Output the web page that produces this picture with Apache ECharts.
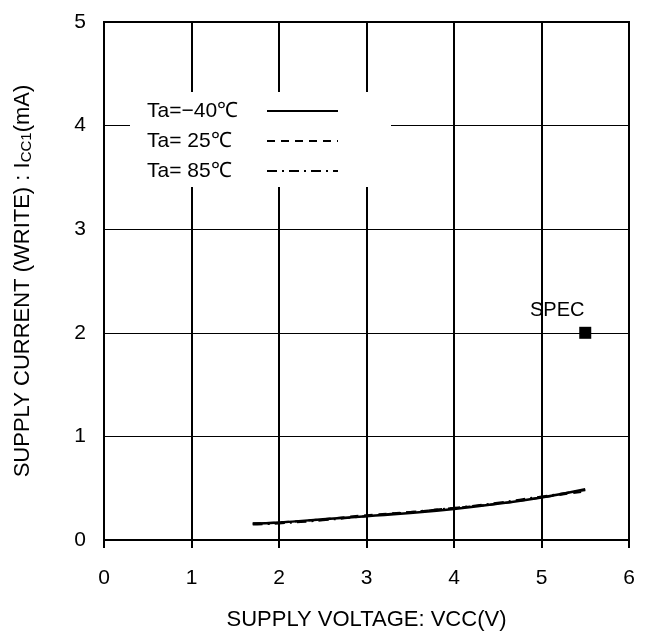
<!DOCTYPE html>
<html>
<head>
<meta charset="utf-8">
<script src="https://cdn.jsdelivr.net/npm/echarts@6/dist/echarts.min.js"></script>
<style>html,body{margin:0;padding:0;background:#fff}#c{width:650px;height:636px}</style>
</head>
<body>
<div id="c"></div>
<script>
const voltages = [1.7, 2.0, 2.5, 3.0, 3.5, 4.0, 4.5, 5.0, 5.5];
const currentM40 = [0.16, 0.17, 0.20, 0.23, 0.26, 0.30, 0.35, 0.41, 0.49];
const current25 = [0.16, 0.17, 0.20, 0.24, 0.27, 0.31, 0.35, 0.41, 0.47];
const current85 = [0.15, 0.16, 0.19, 0.23, 0.27, 0.31, 0.36, 0.42, 0.48];
const seriesNames = ['Ta=\u221240\u2103', 'Ta= 25\u2103', 'Ta= 85\u2103'];
const specPoint = [5.5, 2.0];
const xTicks = [0, 1, 2, 3, 4, 5, 6];
const yTicks = [0, 1, 2, 3, 4, 5];

const FONT = 'Liberation Sans, Arial, sans-serif';
const pair = (xs, ys) => xs.map((x, i) => [x, ys[i]]);

const chart = echarts.init(document.getElementById('c'));
chart.setOption({
  animation: false,
  backgroundColor: '#fff',
  textStyle: { fontFamily: FONT, color: '#000' },
  grid: { left: 104, right: 21, top: 22, bottom: 94, show: true, borderColor: '#000', borderWidth: 2, backgroundColor: 'transparent' },
  legend: {
    data: seriesNames,
    orient: 'vertical',
    align: 'right',
    left: 130,
    top: 92,
    padding: [7, 52, 4, 17],
    backgroundColor: '#fff',
    itemWidth: 71,
    itemHeight: 14,
    itemGap: 6,
    selectedMode: false,
    itemStyle: { opacity: 0 },
    formatter: '{t|{name}}',
    textStyle: { fontSize: 21, fontFamily: FONT, color: '#000', lineHeight: 24,
      rich: { t: { width: 115, align: 'left', fontSize: 21, fontFamily: FONT, color: '#000', lineHeight: 24 } } }
  },
  xAxis: {
    type: 'value', min: xTicks[0], max: xTicks[xTicks.length - 1], interval: 1,
    name: 'SUPPLY VOLTAGE: VCC(V)', nameLocation: 'middle', nameGap: 69,
    nameTextStyle: { fontSize: 22, fontFamily: FONT, color: '#000' },
    axisLine: { show: true, lineStyle: { color: '#000', width: 2 } },
    axisTick: { show: true, length: 8, lineStyle: { color: '#000', width: 2 } },
    axisLabel: { fontSize: 21, color: '#000', fontFamily: FONT, margin: 28 },
    splitLine: { show: true, lineStyle: { color: '#000', width: 2 } }
  },
  yAxis: {
    type: 'value', min: yTicks[0], max: yTicks[yTicks.length - 1], interval: 1,
    name: 'SUPPLY CURRENT (WRITE) : I{s|CC1}(mA)', nameLocation: 'middle', nameGap: 70,
    nameTextStyle: { fontSize: 22, fontFamily: FONT, color: '#000', rich: { s: { fontSize: 15, fontFamily: FONT, color: '#000', verticalAlign: 'bottom', padding: [8, 0, 0, 0] } } },
    axisLine: { show: true, lineStyle: { color: '#000', width: 2 } },
    axisTick: { show: false },
    axisLabel: { fontSize: 21, color: '#000', fontFamily: FONT, margin: 18 },
    splitLine: { show: true, lineStyle: { color: '#000', width: 1 } }
  },
  series: [
    { name: seriesNames[0], type: 'line', data: pair(voltages, currentM40), symbol: 'none', smooth: true, lineStyle: { color: '#000', width: 2.5, type: 'solid' }, itemStyle: { color: '#000' } },
    { name: seriesNames[1], type: 'line', data: pair(voltages, current25), symbol: 'none', smooth: true, lineStyle: { color: '#000', width: 2, type: [8, 6] }, itemStyle: { color: '#000' } },
    { name: seriesNames[2], type: 'line', data: pair(voltages, current85), symbol: 'none', smooth: true, lineStyle: { color: '#000', width: 2, type: [10, 5, 2, 5] }, itemStyle: { color: '#000' } },
    { name: 'SPEC', type: 'scatter', data: [specPoint], symbol: 'rect', symbolSize: 12, itemStyle: { color: '#000', opacity: 1 },
      label: { show: true, formatter: 'SPEC', position: 'top', offset: [-28, -1], fontSize: 20, fontFamily: FONT, color: '#000', opacity: 1 } }
  ]
});
</script>
</body>
</html>
